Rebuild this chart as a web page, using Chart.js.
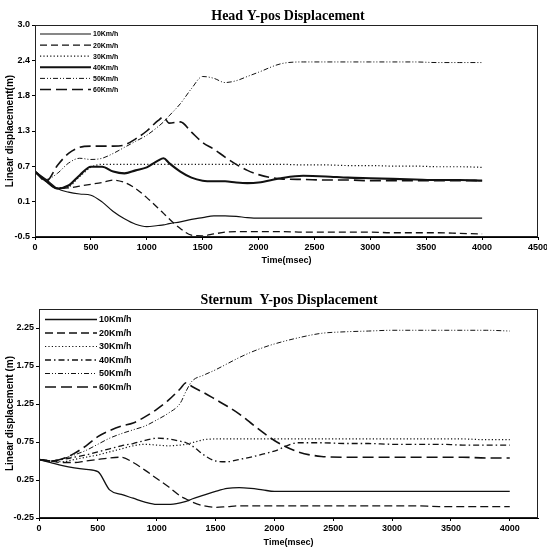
<!DOCTYPE html>
<html><head><meta charset="utf-8">
<script src="https://cdn.jsdelivr.net/npm/chart.js@4.4.0/dist/chart.umd.min.js"></script>
<style>
html,body{margin:0;padding:0;background:#fff;width:547px;height:547px;overflow:hidden}
.c{position:absolute;left:0;width:547px;height:275px}
#top{top:0}
#bot{top:272px}
</style></head><body>
<div class="c" id="top"><canvas id="c1" width="547" height="275"></canvas></div>
<div class="c" id="bot"><canvas id="c2" width="547" height="275"></canvas></div>
<script>
// ---------- DATA ----------
const seriesLabels = ['10Km/h','20Km/h','30Km/h','40Km/h','50Km/h','60Km/h'];

const headTime = [0,100,200,300,400,500,600,700,800,900,1000,1100,1150,1200,1300,1400,1500,1600,1700,1800,1900,2000,2200,2400,2600,2800,3000,3200,3400,3600,3800,4000];
const head10 = [0.58,0.45,0.30,0.24,0.21,0.19,0.08,-0.08,-0.20,-0.29,-0.33,-0.31,-0.30,-0.28,-0.25,-0.21,-0.18,-0.15,-0.15,-0.16,-0.18,-0.19,-0.19,-0.19,-0.19,-0.19,-0.19,-0.19,-0.19,-0.19,-0.19,-0.19];
const head20 = [0.58,0.42,0.30,0.31,0.34,0.37,0.40,0.44,0.40,0.30,0.15,-0.02,-0.11,-0.20,-0.36,-0.47,-0.48,-0.45,-0.42,-0.41,-0.41,-0.41,-0.41,-0.42,-0.42,-0.42,-0.42,-0.43,-0.43,-0.43,-0.44,-0.45];
const head30 = [0.58,0.42,0.31,0.33,0.50,0.65,0.70,0.70,0.70,0.70,0.70,0.70,0.70,0.70,0.70,0.70,0.70,0.70,0.70,0.70,0.70,0.70,0.70,0.69,0.69,0.68,0.68,0.67,0.67,0.66,0.66,0.65];
const head40 = [0.58,0.42,0.30,0.35,0.52,0.66,0.66,0.58,0.55,0.60,0.65,0.76,0.80,0.72,0.58,0.48,0.43,0.42,0.42,0.40,0.39,0.40,0.47,0.51,0.50,0.48,0.47,0.46,0.45,0.44,0.44,0.43];
const head50 = [0.58,0.45,0.55,0.72,0.80,0.78,0.80,0.88,0.98,1.08,1.18,1.32,1.40,1.50,1.70,1.95,2.15,2.12,2.05,2.08,2.15,2.22,2.36,2.39,2.39,2.39,2.39,2.39,2.39,2.38,2.38,2.38];
const head60 = [0.58,0.42,0.68,0.88,0.98,1.00,1.00,1.00,1.02,1.12,1.25,1.42,1.48,1.38,1.40,1.23,1.06,0.95,0.82,0.70,0.60,0.53,0.46,0.45,0.44,0.44,0.43,0.43,0.43,0.43,0.43,0.43];
const headYTicks = [-0.5, 0.0833, 0.6667, 1.25, 1.8333, 2.4167, 3.0];
const headYLabels = ['-0.5','0.1','0.7','1.3','1.8','2.4','3.0'];
const headXTicks = [0,500,1000,1500,2000,2500,3000,3500,4000,4500];

const sternTime = [0,100,200,300,400,500,600,700,800,900,1000,1100,1200,1250,1300,1400,1500,1600,1700,1800,1900,2000,2200,2400,2600,2800,3000,3200,3400,3600,3800,4000];
const stern10 = [0.52,0.48,0.44,0.41,0.39,0.36,0.12,0.06,0.01,-0.04,-0.07,-0.07,-0.05,-0.03,0.00,0.05,0.10,0.14,0.15,0.14,0.12,0.10,0.10,0.10,0.10,0.10,0.10,0.10,0.10,0.10,0.10,0.10];
const stern20 = [0.52,0.50,0.48,0.48,0.50,0.52,0.54,0.55,0.48,0.38,0.27,0.16,0.04,0.00,-0.04,-0.09,-0.11,-0.10,-0.09,-0.09,-0.09,-0.09,-0.09,-0.09,-0.09,-0.09,-0.09,-0.09,-0.10,-0.10,-0.10,-0.10];
const stern30 = [0.52,0.50,0.49,0.52,0.55,0.58,0.62,0.66,0.70,0.72,0.71,0.70,0.71,0.72,0.74,0.78,0.79,0.79,0.79,0.79,0.79,0.79,0.79,0.79,0.79,0.79,0.79,0.79,0.79,0.79,0.78,0.78];
const stern40 = [0.52,0.50,0.52,0.55,0.58,0.62,0.66,0.70,0.73,0.77,0.80,0.79,0.76,0.74,0.70,0.58,0.50,0.49,0.52,0.55,0.59,0.63,0.74,0.74,0.73,0.73,0.72,0.72,0.72,0.71,0.71,0.71];
const stern50 = [0.52,0.50,0.53,0.58,0.64,0.72,0.80,0.86,0.91,0.96,1.04,1.13,1.26,1.42,1.55,1.63,1.70,1.78,1.86,1.93,1.99,2.04,2.12,2.18,2.20,2.21,2.22,2.22,2.22,2.22,2.22,2.21];
const stern60 = [0.52,0.50,0.53,0.60,0.70,0.82,0.90,0.96,1.00,1.08,1.18,1.30,1.45,1.53,1.48,1.40,1.31,1.22,1.12,1.00,0.88,0.77,0.62,0.56,0.55,0.55,0.55,0.55,0.55,0.55,0.54,0.54];
const sternYTicks = [-0.25, 0.25, 0.75, 1.25, 1.75, 2.25];
const sternYLabels = ['-0.25','0.25','0.75','1.25','1.75','2.25'];
const sternXTicks = [0,500,1000,1500,2000,2500,3000,3500,4000];

// ---------- STYLES ----------
const headStyles = [
  {dash:[], w:1.2},
  {dash:[7,4], w:1.3},
  {dash:[1.2,2.2], w:1.2},
  {dash:[], w:2.1},
  {dash:[5,2,1,2,1,2], w:1},
  {dash:[11,5], w:1.6}
];
const sternStyles = [
  {dash:[], w:1.3},
  {dash:[8,4], w:1.3},
  {dash:[1.2,2.2], w:1.2},
  {dash:[6,3,1.5,3], w:1.3},
  {dash:[5,2,1,2,1,2], w:1},
  {dash:[11,5], w:1.6}
];

function makeChart(id, cfg) {
  const datasets = cfg.series.map((vals, i) => ({
    label: seriesLabels[i],
    data: cfg.time.map((t, j) => ({x: t, y: vals[j]})),
    borderColor: '#111',
    borderWidth: cfg.styles[i].w,
    borderDash: cfg.styles[i].dash,
    pointRadius: 0,
    fill: false,
    cubicInterpolationMode: 'monotone'
  }));
  const overlay = {
    id: 'overlay',
    afterDatasetsDraw(chart) {
      const ctx = chart.ctx, a = chart.chartArea;
      ctx.save();
      ctx.strokeStyle = '#222';
      ctx.lineWidth = 1;
      ctx.setLineDash([]);
      ctx.strokeRect(Math.round(a.left) + 0.5, Math.round(a.top) + 0.5, Math.round(a.right - a.left) - 1, Math.round(a.bottom - a.top) - 1);
      const L = cfg.legend;
      chart.data.datasets.forEach((ds, i) => {
        const y = L.y0 + i * L.dy;
        ctx.beginPath();
        ctx.strokeStyle = '#111';
        ctx.lineWidth = ds.borderWidth;
        ctx.setLineDash(ds.borderDash);
        ctx.moveTo(L.x0, y);
        ctx.lineTo(L.x1, y);
        ctx.stroke();
        ctx.setLineDash([]);
        ctx.fillStyle = '#000';
        ctx.font = L.font;
        ctx.textAlign = 'left';
        ctx.textBaseline = 'middle';
        ctx.fillText(ds.label, L.x1 + 2, y + 0.5);
      });
      ctx.font = 'bold 14px "Liberation Serif", "DejaVu Serif", serif';
      ctx.textAlign = 'center';
      ctx.textBaseline = 'alphabetic';
      ctx.fillStyle = '#000';
      ctx.fillText(cfg.title, cfg.titleX, cfg.titleY);
      ctx.restore();
    }
  };
  return new Chart(document.getElementById(id), {
    type: 'line',
    data: {datasets},
    plugins: [overlay],
    options: {
      responsive: false,
      animation: false,
      layout: {padding: {left: 0, top: cfg.padTop, right: 9, bottom: 0}},
      plugins: {legend: {display: false}, title: {display: false}, tooltip: {enabled: false}},
      scales: {
        x: {
          type: 'linear',
          min: 0,
          max: cfg.xMax,
          afterBuildTicks: s => { s.ticks = cfg.xTicks.map(v => ({value: v})); },
          afterFit: s => { s.height = cfg.xH; s.paddingLeft = 0; s.paddingRight = 0; },
          ticks: {autoSkip: false, maxRotation: 0, color: '#000', padding: 2,
                  callback: v => String(v),
                  font: {family: '"Liberation Sans", Arial, sans-serif', size: 9, weight: 'bold'}},
          grid: {drawOnChartArea: false, tickLength: 3, color: '#000'},
          border: {color: '#000', width: 1},
          title: {display: true, text: 'Time(msec)', color: '#000',
                  font: {family: '"Liberation Sans", Arial, sans-serif', size: 9, weight: 'bold', lineHeight: 1},
                  padding: {top: 0, bottom: cfg.xTitlePad}}
        },
        y: {
          type: 'linear',
          min: cfg.yMin,
          max: cfg.yMax,
          afterBuildTicks: s => { s.ticks = cfg.yTicks.map(v => ({value: v})); },
          afterFit: s => { s.width = cfg.yW; s.paddingTop = 0; s.paddingBottom = 0; },
          ticks: {autoSkip: false, color: '#000', padding: 2,
                  callback: (v, i) => cfg.yLabels[i],
                  font: {family: '"Liberation Sans", Arial, sans-serif', size: 9, weight: 'bold'}},
          grid: {drawOnChartArea: false, tickLength: 3, color: '#000'},
          border: {color: '#000', width: 1},
          title: {display: true, text: cfg.yTitle, color: '#000',
                  font: {family: '"Liberation Sans", Arial, sans-serif', size: 10, weight: 'bold', lineHeight: 1},
                  padding: {top: 5, bottom: 0}}
        }
      }
    }
  });
}

makeChart('c1', {
  time: headTime,
  series: [head10, head20, head30, head40, head50, head60],
  styles: headStyles,
  title: 'Head Y-pos Displacement', titleX: 288, titleY: 20,
  padTop: 25, xH: 38, yW: 35, xTitlePad: 9.5,
  xMax: 4500, xTicks: headXTicks,
  yMin: -0.5, yMax: 3.0, yTicks: headYTicks, yLabels: headYLabels,
  yTitle: 'Linear displacement(m)',
  legend: {x0: 40, x1: 91, y0: 34, dy: 11.1, font: 'bold 7px "Liberation Sans", Arial, sans-serif'}
});

makeChart('c2', {
  time: sternTime,
  series: [stern10, stern20, stern30, stern40, stern50, stern60],
  styles: sternStyles,
  title: 'Sternum  Y-pos Displacement', titleX: 289, titleY: 32,
  padTop: 37, xH: 29, yW: 39, xTitlePad: 0,
  xMax: 4240, xTicks: sternXTicks,
  yMin: -0.25, yMax: 2.5, yTicks: sternYTicks, yLabels: sternYLabels,
  yTitle: 'Linear displacement (m)',
  legend: {x0: 45, x1: 97, y0: 47.5, dy: 13.5, font: 'bold 9px "Liberation Sans", Arial, sans-serif'}
});
</script>
</body></html>
